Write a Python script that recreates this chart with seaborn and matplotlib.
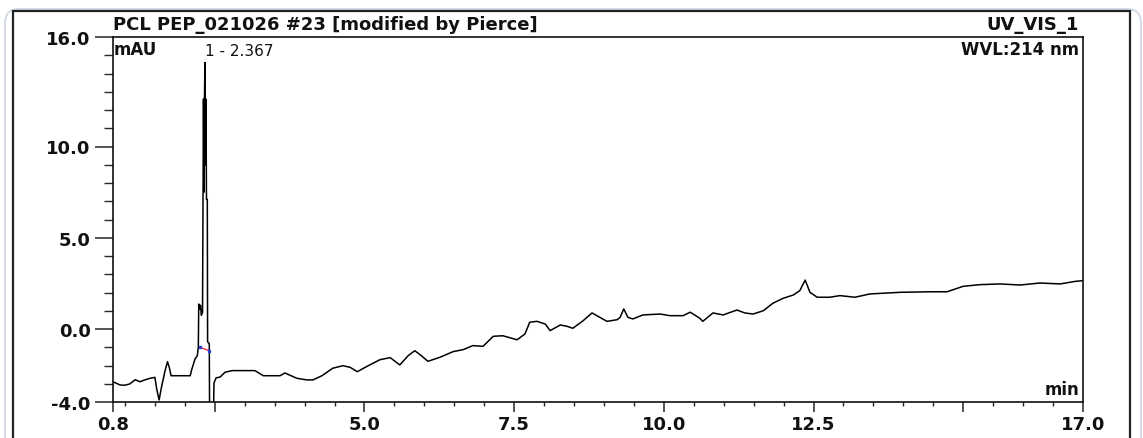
import numpy as np
import pandas as pd
import seaborn as sns
import matplotlib.pyplot as plt
from matplotlib.patches import Rectangle, FancyBboxPatch
from matplotlib.ticker import FixedLocator, MultipleLocator

# Chromatogram trace (retention time in min, signal in mAU)
time_min = [0.80, 0.92, 1.00, 1.08, 1.17, 1.25, 1.33, 1.42, 1.50, 1.53,
            1.57, 1.61, 1.67, 1.71, 1.74, 1.77, 1.87, 2.09, 2.11, 2.17,
            2.208, 2.225, 2.232, 2.250, 2.262, 2.275, 2.295, 2.311, 2.320, 2.328,
            2.336, 2.345, 2.353, 2.361, 2.375, 2.380, 2.408, 2.413, 2.478, 2.487,
            2.52, 2.59, 2.67, 2.79, 3.17, 3.31, 3.42, 3.59, 3.67, 3.87,
            4.04, 4.14, 4.29, 4.47, 4.64, 4.76, 4.88, 5.04, 5.26, 5.43,
            5.59, 5.73, 5.84, 5.93, 6.06, 6.26, 6.48, 6.65, 6.81, 6.98,
            7.15, 7.31, 7.55, 7.68, 7.76, 7.88, 8.02, 8.10, 8.27, 8.38,
            8.48, 8.65, 8.80, 8.93, 9.05, 9.22, 9.27, 9.33, 9.40, 9.48,
            9.65, 9.94, 10.10, 10.32, 10.44, 10.60, 10.65, 10.82, 10.99, 11.22,
            11.35, 11.49, 11.66, 11.82, 11.99, 12.16, 12.27, 12.36, 12.44, 12.56,
            12.77, 12.94, 13.19, 13.44, 13.94, 14.44, 14.73, 15.00, 15.28, 15.61,
            15.95, 16.28, 16.62, 16.87, 17.00]
signal_mau = [-2.89, -3.07, -3.08, -3.01, -2.78, -2.89, -2.79, -2.70, -2.65, -3.29,
              -3.89, -3.18, -2.28, -1.79, -2.10, -2.56, -2.56, -2.56, -2.28, -1.64,
              -1.46, -1.00, 1.37, 1.10, 1.30, 0.75, 0.90, 12.6, 7.5, 12.8,
              14.6, 9.0, 12.6, 7.1, 7.1, -0.70, -0.80, -4.5, -4.5, -2.96,
              -2.68, -2.63, -2.37, -2.28, -2.28, -2.56, -2.56, -2.56, -2.41, -2.70,
              -2.79, -2.79, -2.56, -2.15, -2.01, -2.10, -2.34, -2.05, -1.68, -1.57,
              -1.97, -1.46, -1.19, -1.41, -1.77, -1.55, -1.24, -1.13, -0.91, -0.95,
              -0.40, -0.37, -0.59, -0.27, 0.37, 0.42, 0.27, -0.09, 0.22, 0.15,
              0.04, 0.45, 0.88, 0.64, 0.42, 0.51, 0.64, 1.10, 0.64, 0.55,
              0.77, 0.82, 0.73, 0.73, 0.92, 0.59, 0.42, 0.88, 0.77, 1.04,
              0.88, 0.82, 1.00, 1.41, 1.68, 1.86, 2.10, 2.68, 2.01, 1.74,
              1.74, 1.83, 1.74, 1.92, 2.01, 2.04, 2.04, 2.34, 2.43, 2.47,
              2.41, 2.52, 2.47, 2.61, 2.65]

# integration baseline of peak 1
baseline_t = [2.25, 2.41]
baseline_y = [-1.00, -1.19]

peak_time = 2.367
peak_height = 14.6
peak_label = "1 - 2.367"

x_major = [0.8, 2.5, 5.0, 7.5, 10.0, 12.5, 15.0, 17.0]
x_labels = ["0.8", "", "5.0", "7.5", "10.0", "12.5", "", "17.0"]
y_major = [-4.0, 0.0, 5.0, 10.0, 16.0]
y_labels = ["-4.0", "0.0", "5.0", "10.0", "16.0"]

df = pd.DataFrame({"time": time_min, "mAU": signal_mau})

sns.set_theme(style="white")
plt.rcParams["font.family"] = ["DejaVu Sans"]
plt.rcParams["axes.unicode_minus"] = False

W, H = 1143, 439
fig = plt.figure(figsize=(W / 100, H / 100), dpi=100)
fig.patch.set_facecolor("white")

# web-page card border and the chart frame around the report
fig.patches.append(FancyBboxPatch((0.05, -0.3), 11.36, 4.59, boxstyle="round,pad=0,rounding_size=0.14",
                                  transform=fig.dpi_scale_trans, fill=False, ec="#d3dbe6", lw=1.4))
fig.patches.append(Rectangle((13 / W, -0.05), (1130 - 13) / W, (H - 12) / H + 0.05,
                             transform=fig.transFigure, fill=False, ec="#222222", lw=1.6))

ax = fig.add_axes([113 / W, 36 / H, 970 / W, 365 / H])
sns.lineplot(data=df, x="time", y="mAU", sort=False, estimator=None,
             color="black", lw=1.1, ax=ax)
ax.plot(baseline_t, baseline_y, color="#e8304a", lw=1.0)
ax.plot(baseline_t, baseline_y, ls="none", marker="s", ms=1.5, color="#3040d0")

ax.set_xlim(0.8, 17.0)
ax.set_ylim(-4.0, 16.0)
ax.set_xlabel("")
ax.set_ylabel("")

ax.xaxis.set_major_locator(FixedLocator(x_major))
ax.set_xticklabels(x_labels)
ax.xaxis.set_minor_locator(FixedLocator(np.arange(1.0, 17.0, 0.5)))
ax.yaxis.set_major_locator(FixedLocator(y_major))
ax.set_yticklabels(y_labels)
ax.yaxis.set_minor_locator(MultipleLocator(1.0))

for lbl in ax.get_xticklabels() + ax.get_yticklabels():
    lbl.set_fontweight("bold")
    lbl.set_fontsize(13)
    lbl.set_color("#111111")

ax.tick_params(axis="x", which="major", direction="out", length=7.5, width=1.1, pad=2, bottom=True)
ax.tick_params(axis="x", which="minor", direction="out", length=3, width=1.0, bottom=True)
ax.tick_params(axis="y", which="major", direction="out", length=13, width=1.1, pad=3, left=True)
ax.tick_params(axis="y", which="minor", direction="out", length=6.5, width=1.0, left=True)

for sp in ax.spines.values():
    sp.set_visible(True)
    sp.set_color("#111111")
    sp.set_linewidth(1.2)

# header texts
fig.text(113 / W, (H - 25) / H, "PCL PEP_021026 #23 [modified by Pierce]",
         ha="left", va="center", fontsize=13, fontweight="bold", color="#111111")
fig.text(1079 / W, (H - 25) / H, "UV_VIS_1",
         ha="right", va="center", fontsize=13, fontweight="bold", color="#111111")

ax.text(0.001, 0.992, "mAU", transform=ax.transAxes, ha="left", va="top",
        fontsize=12, fontweight="bold", color="#111111")
ax.text(0.996, 0.992, "WVL:214 nm", transform=ax.transAxes, ha="right", va="top",
        fontsize=12, fontweight="bold", color="#111111")
ax.text(0.996, 0.012, "min", transform=ax.transAxes, ha="right", va="bottom",
        fontsize=12, fontweight="bold", color="#111111")
ax.annotate(peak_label, xy=(peak_time, peak_height), xytext=(-1, 3),
            textcoords="offset points", ha="left", va="bottom", fontsize=11, color="#111111")

fig.savefig("out.png", dpi=100)
